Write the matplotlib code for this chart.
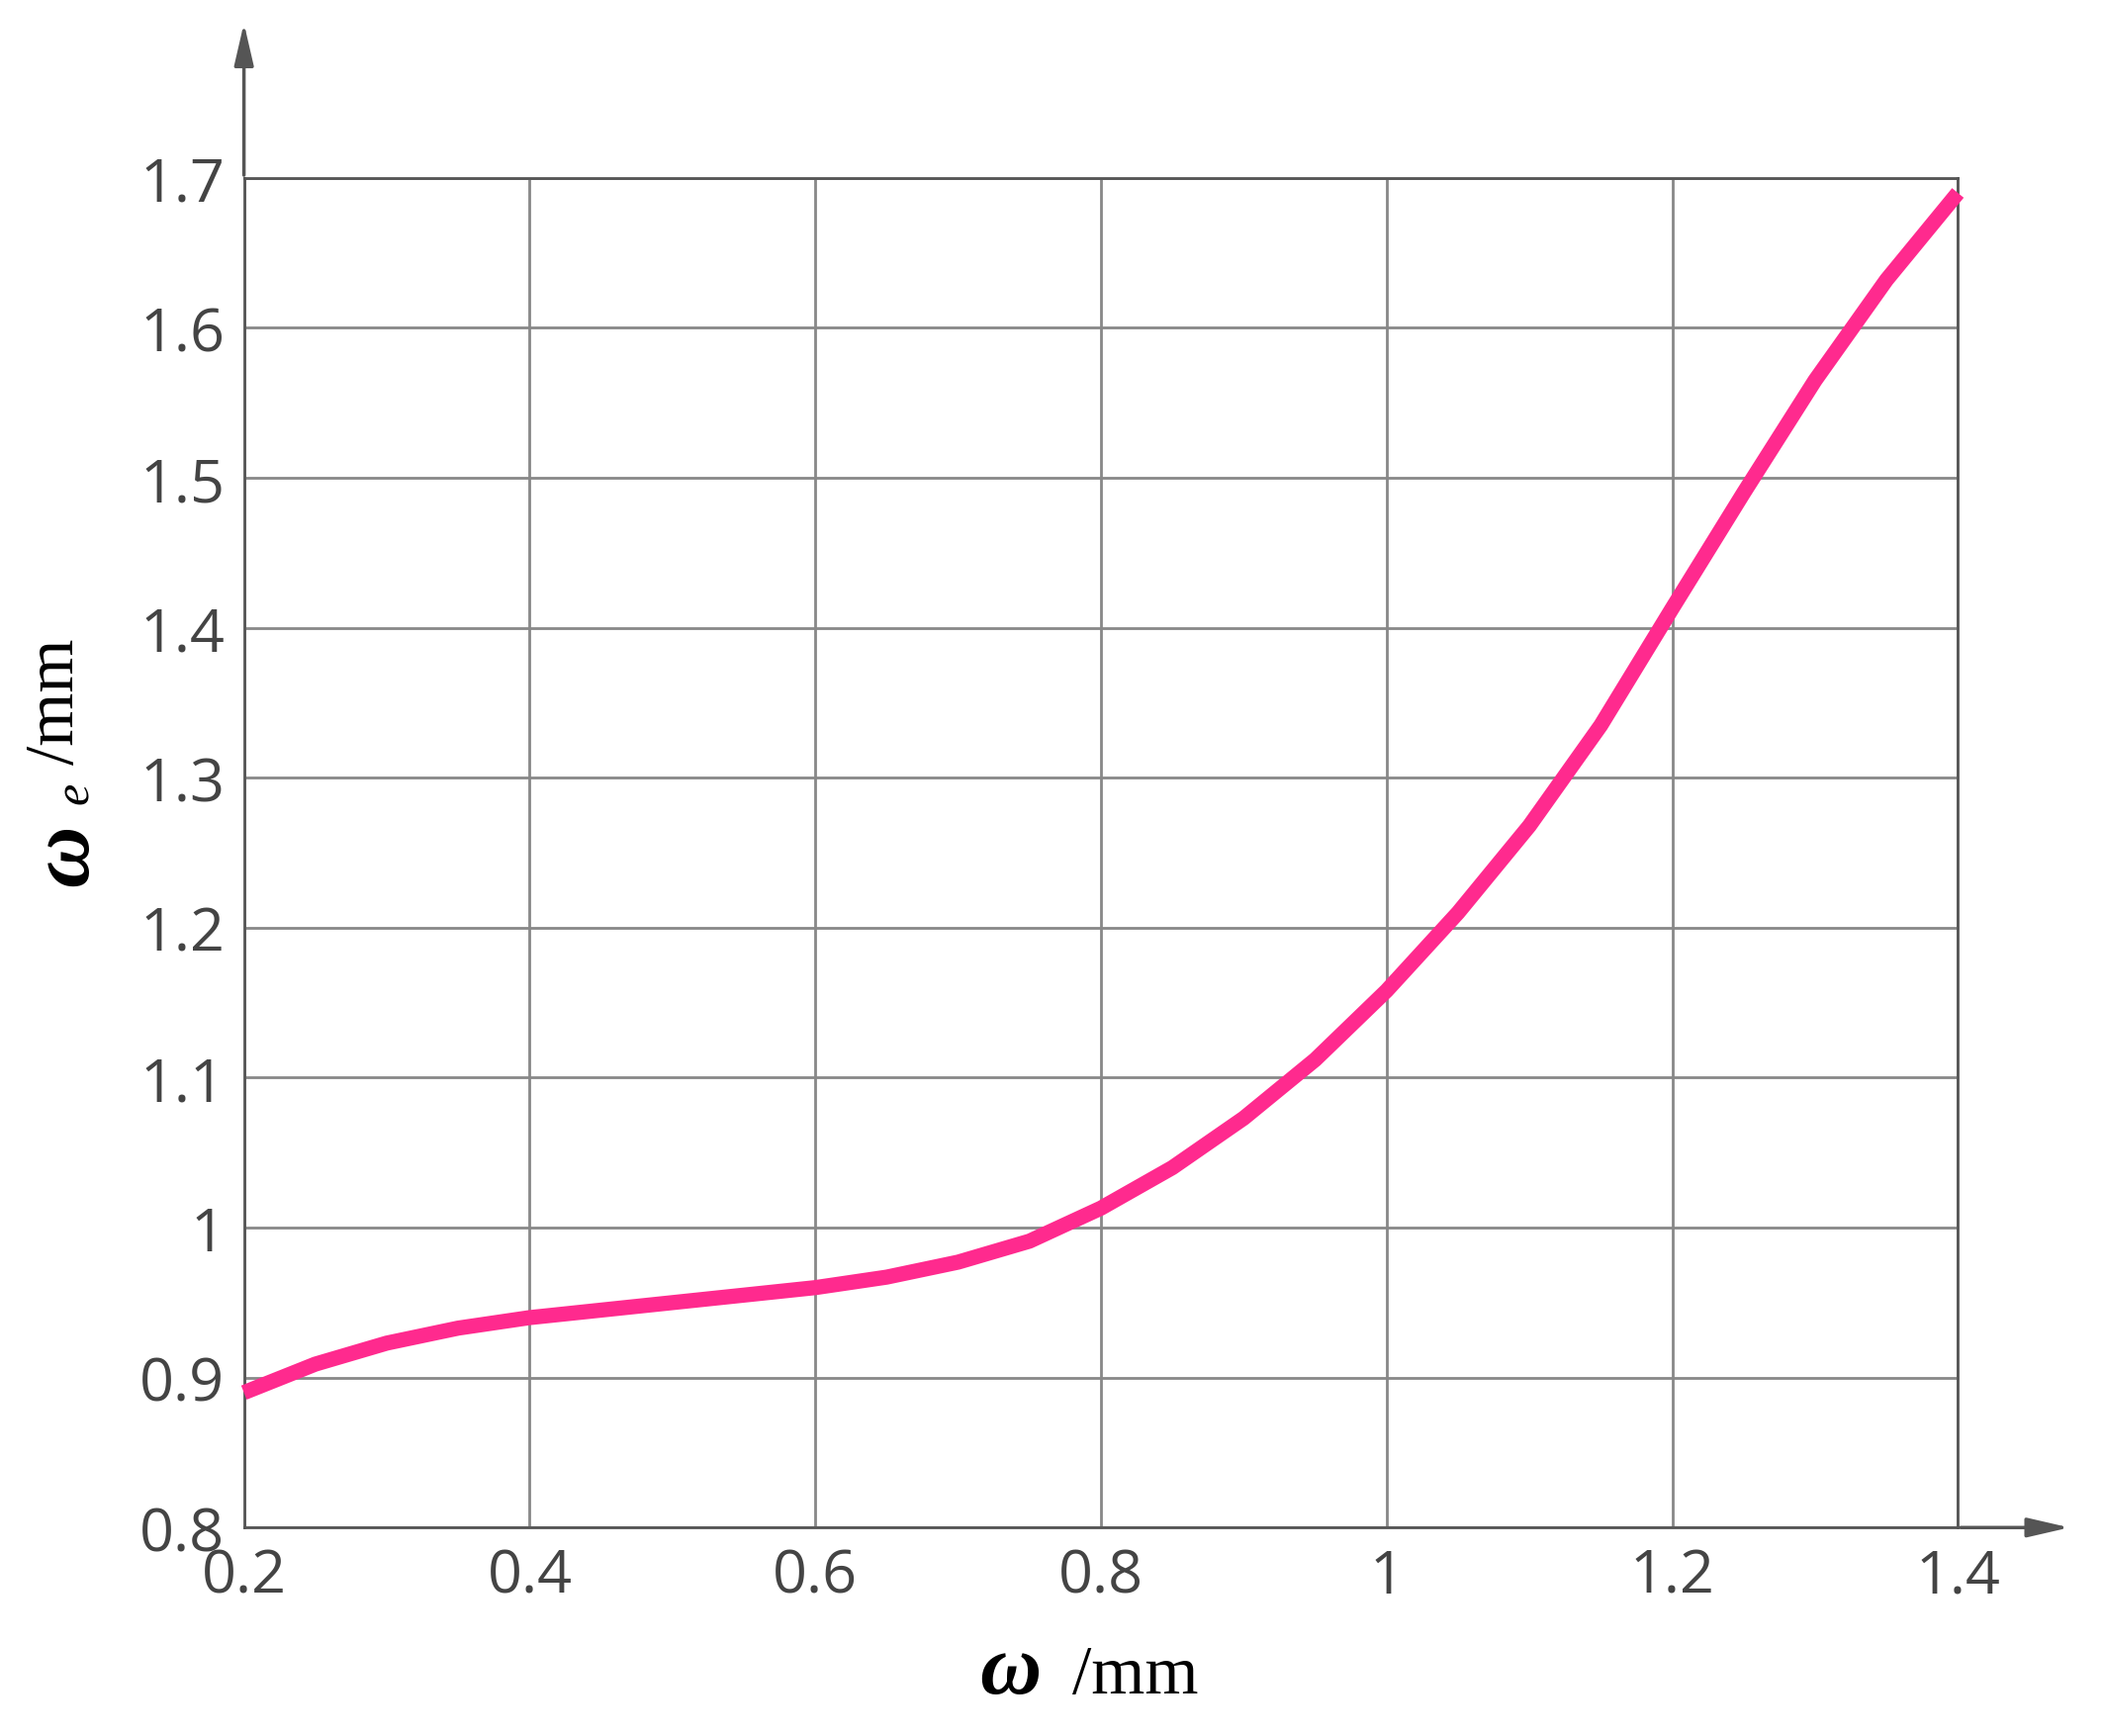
import matplotlib.pyplot as plt
import numpy as np

w = [0.2, 0.25, 0.3, 0.35, 0.4, 0.45, 0.5, 0.55, 0.6, 0.65, 0.7, 0.75, 0.8, 0.85, 0.9,
     0.95, 1.0, 1.05, 1.1, 1.15, 1.2, 1.25, 1.3, 1.35, 1.4]
we = [0.89, 0.909, 0.923, 0.933, 0.94, 0.945, 0.95, 0.955, 0.96, 0.967, 0.977, 0.991, 1.013,
      1.04, 1.073, 1.112, 1.158, 1.21, 1.268, 1.335, 1.413, 1.49, 1.565, 1.632, 1.69]
xticks = [0.2, 0.4, 0.6, 0.8, 1.0, 1.2, 1.4]
xlabels = ['0.2', '0.4', '0.6', '0.8', '1', '1.2', '1.4']
yticks = [0.8, 0.9, 1.0, 1.1, 1.2, 1.3, 1.4, 1.5, 1.6, 1.7]
ylabels = ['0.8', '0.9', '1', '1.1', '1.2', '1.3', '1.4', '1.5', '1.6', '1.7']

grey = '#555555'
fig = plt.figure(figsize=(21.26, 17.56), dpi=100)
ax = fig.add_axes([0.116, 0.12, 0.815, 0.777])
ax.plot(w, we, color='#ff2a8e', lw=11, solid_capstyle='butt', zorder=3, clip_on=False)
ax.set_xlim(0.2, 1.4)
ax.set_ylim(0.8, 1.7)
ax.set_xticks(xticks, xlabels)
ax.set_yticks(yticks, ylabels)
ax.grid(True, color='#888888', lw=2)
for s in ax.spines.values():
    s.set_color(grey)
    s.set_linewidth(2)
ax.tick_params(length=0, labelsize=44, colors=grey, pad=14)
for t in ax.get_xticklabels() + ax.get_yticklabels():
    t.set_fontfamily('Open Sans')
    t.set_color('#444444')

# axis arrows
ax.annotate('', xy=(1.48, 0.8), xytext=(1.4, 0.8), xycoords='data',
            arrowprops=dict(arrowstyle='-|>,head_length=2.6,head_width=0.6', color=grey, lw=2.5),
            annotation_clip=False)
ax.annotate('', xy=(0.2, 1.805), xytext=(0.2, 1.7), xycoords='data',
            arrowprops=dict(arrowstyle='-|>,head_length=2.6,head_width=0.6', color=grey, lw=2.5),
            annotation_clip=False)

# axis labels: bold italic omega + serif unit
fig.text(0.495, 0.025, 'ω', fontsize=62, family='Liberation Serif', style='italic',
         weight='bold', ha='right', va='baseline')
fig.text(0.51, 0.025, '/mm', fontsize=50, family='Liberation Serif', ha='left', va='baseline')
fig.text(0.032, 0.49, 'ω', fontsize=62, family='Liberation Serif', style='italic',
         weight='bold', rotation=90, ha='center', va='bottom')
fig.text(0.036, 0.537, 'e', fontsize=36, family='Liberation Serif', style='italic',
         rotation=90, ha='center', va='bottom')
fig.text(0.027, 0.56, '/mm', fontsize=50, family='Liberation Serif', rotation=90,
         ha='center', va='bottom')

fig.savefig('out.png')
